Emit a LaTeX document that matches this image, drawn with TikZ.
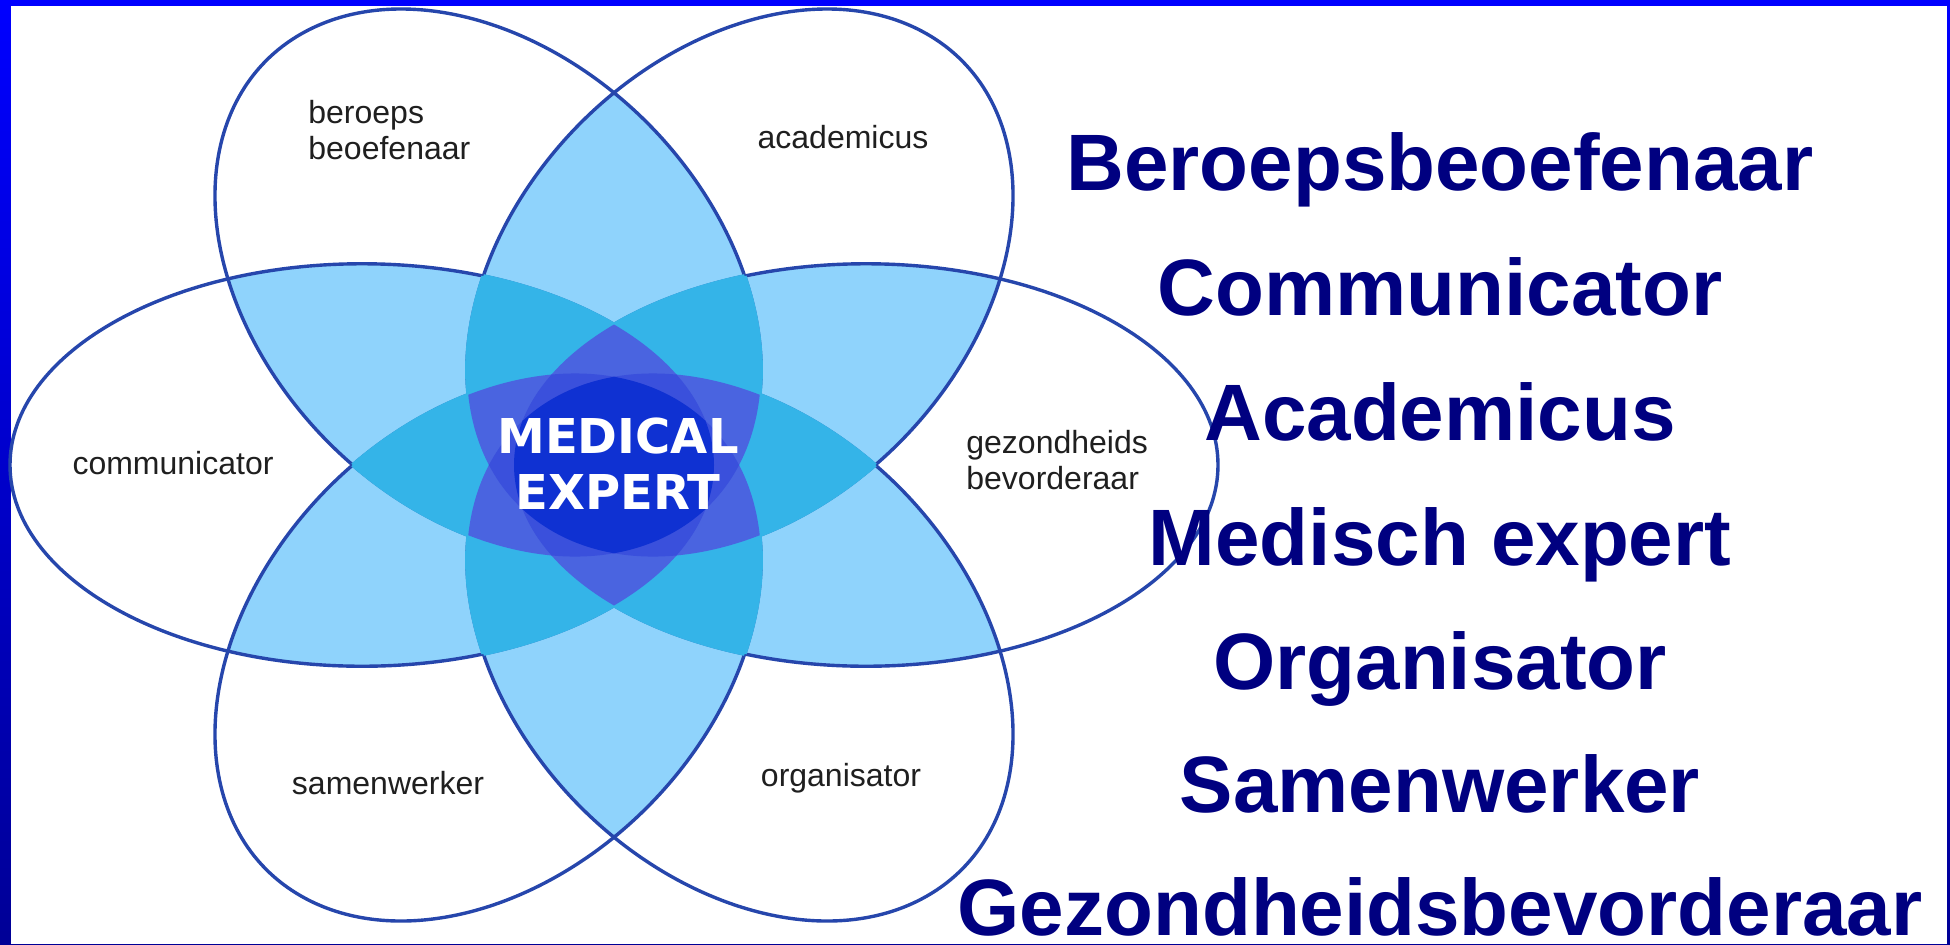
\documentclass[tikz,border=0pt]{standalone}
\usepackage{fontspec}
\setmainfont{Liberation Sans}
\newfontfamily\expertfont{DejaVu Sans}
\usepackage{tikz}

\definecolor{frametop}{RGB}{0,0,255}
\definecolor{framebottom}{RGB}{0,0,150}
\definecolor{lvtwo}{RGB}{143,211,252}
\definecolor{lvthree}{RGB}{52,180,232}
\definecolor{lvfour}{RGB}{74,100,224}
\definecolor{lvfive}{RGB}{58,80,220}
\definecolor{lvsix}{RGB}{15,49,210}
\definecolor{petalline}{RGB}{38,70,172}
\definecolor{rolenavy}{RGB}{0,0,128}

\newcommand{\petalpath}{(252,0) ellipse [x radius=352, y radius=241]}

\tikzset{
  petal/.style={rotate=60*#1},
  rolesmall/.style={font=\fontsize{16}{18}\selectfont, text=black!88, inner sep=0pt},
  rolebig/.style={font=\fontsize{40}{40}\bfseries, text=rolenavy, anchor=base, inner sep=0pt},
}

\begin{document}
\begin{tikzpicture}[x=0.5pt, y=-0.5pt]

    % frame
    \useasboundingbox (0,0) rectangle (1950,944);
    \fill[top color=frametop, bottom color=framebottom] (0,0) rectangle (1950,944);
    \fill[white] (11,6) rectangle (1947,944);

    \begin{scope}[shift={(614,465)}, yscale=0.835]
    % two petals
    \foreach \i in {0,...,5}{
      \foreach \j in {0,...,5}{
        \ifnum\j>\i
          \begin{scope}
            \clip[petal=\i] \petalpath;
            \fill[lvtwo, petal=\j] \petalpath;
          \end{scope}
        \fi
      }
    }
    % outlines
    \foreach \i in {0,...,5}
      \draw[petalline, line width=1.7pt, petal=\i] \petalpath;
    % three petals
    \foreach \i in {0,...,5}{
      \foreach \j in {0,...,5}{
        \ifnum\j>\i
          \begin{scope}
            \clip[petal=\i] \petalpath;
            \clip[petal=\j] \petalpath;
            \foreach \k in {0,...,5}{
              \ifnum\k=\i\else\ifnum\k=\j\else
                \filldraw[fill=lvthree, draw=lvthree, line width=1.9pt, petal=\k] \petalpath;
              \fi\fi
            }
          \end{scope}
        \fi
      }
    }
    % four petals
    \foreach \i in {0,...,5}{
      \foreach \j in {0,...,5}{
        \ifnum\j>\i
        \foreach \k in {0,...,5}{
          \ifnum\k>\j
            \begin{scope}
              \clip[petal=\i] \petalpath;
              \clip[petal=\j] \petalpath;
              \clip[petal=\k] \petalpath;
              \foreach \m in {0,...,5}{
                \ifnum\m>\k \fill[lvfour, petal=\m] \petalpath; \fi
              }
            \end{scope}
          \fi
        }
        \fi
      }
    }
    % five petals
    \foreach \n in {0,...,5}{
      \begin{scope}
        \ifnum\n=0 \else \clip[petal=0] \petalpath; \fi
        \ifnum\n=1 \else \clip[petal=1] \petalpath; \fi
        \ifnum\n=2 \else \clip[petal=2] \petalpath; \fi
        \ifnum\n=3 \else \clip[petal=3] \petalpath; \fi
        \ifnum\n=4 \else \clip[petal=4] \petalpath; \fi
        \ifnum\n=5 \else \clip[petal=5] \petalpath; \fi
        \fill[lvfive] (-400,-400) rectangle (400,400);
      \end{scope}
    }
    % all six
    \begin{scope}
      \clip[petal=0] \petalpath;
      \clip[petal=1] \petalpath;
      \clip[petal=2] \petalpath;
      \clip[petal=3] \petalpath;
      \clip[petal=4] \petalpath;
      \fill[lvsix, petal=5] \petalpath;
    \end{scope}
    \end{scope}

    % petal labels
    \node[rolesmall, anchor=west, align=left] (beroeps) at (308,130) {beroeps\\beoefenaar};
    \node[rolesmall] (academicus) at (843,137) {academicus};
    \node[rolesmall] (communicator) at (173,463) {communicator};
    \node[rolesmall, anchor=west, align=left] (gezondheid) at (966,460) {gezondheids\\bevorderaar};
    \node[rolesmall] (samenwerker) at (388,783) {samenwerker};
    \node[rolesmall] (organisator) at (841,778) {organisator};
    \node[font=\expertfont\fontsize{24}{28}\bfseries\selectfont, text=white, align=center, inner sep=0pt] (expert) at (618,464) {MEDICAL\\EXPERT};

    % role list
    \node[rolebig] (listberoeps) at (1440,190) {Beroepsbeoefenaar};
    \node[rolebig] (listcommunicator) at (1440,315) {Communicator};
    \node[rolebig] (listacademicus) at (1440,440) {Academicus};
    \node[rolebig] (listexpert) at (1440,565) {Medisch expert};
    \node[rolebig] (listorganisator) at (1440,689) {Organisator};
    \node[rolebig] (listsamenwerker) at (1440,812) {Samenwerker};
    \node[rolebig] (listgezondheid) at (1440,935) {Gezondheidsbevorderaar};

\end{tikzpicture}
\end{document}
